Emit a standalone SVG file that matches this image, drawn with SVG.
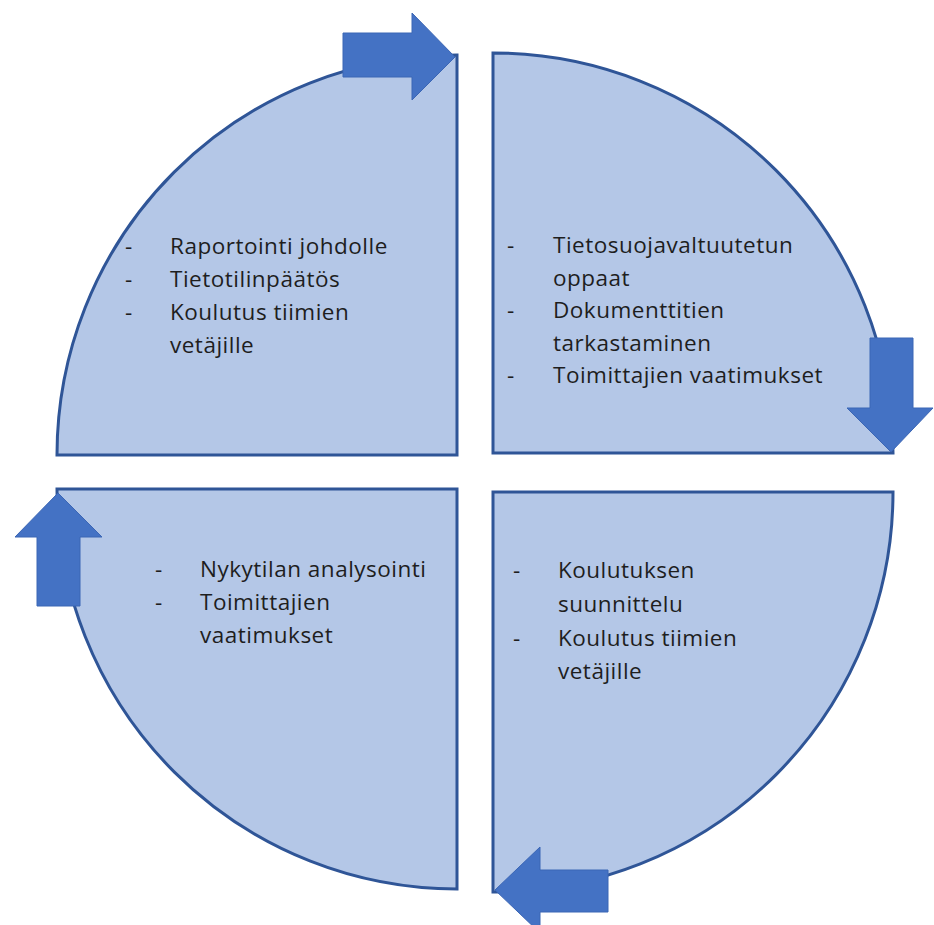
<svg xmlns="http://www.w3.org/2000/svg" width="934" height="925" viewBox="0 0 934 925">
<style>
.sec{fill:#B4C7E7;stroke:#2F5597;stroke-width:3;stroke-linejoin:miter}
.arr{fill:#4472C4;stroke:#3B66B5;stroke-width:1}
.t{font-family:"Open Sans","Noto Sans",sans-serif;font-size:22.5px;letter-spacing:0.5px;fill:#1E1E1E}
</style>
<rect width="934" height="925" fill="#FFFFFF"/>
<g id="sector-tl">
<path class="sec" d="M457,455 L457,55 A400,400 0 0 0 57,455 Z"/>
<text class="t" x="125" y="254">-</text><text class="t" x="170" y="254">Raportointi johdolle</text>
<text class="t" x="125" y="287">-</text><text class="t" x="170" y="287">Tietotilinpäätös</text>
<text class="t" x="125" y="320">-</text><text class="t" x="170" y="320">Koulutus tiimien</text>
<text class="t" x="170" y="353">vetäjille</text>
</g>
<g id="sector-tr">
<path class="sec" d="M493,453 L493,53 A400,400 0 0 1 893,453 Z"/>
<text class="t" x="507" y="253">-</text><text class="t" x="553" y="253">Tietosuojavaltuutetun</text>
<text class="t" x="553" y="286">oppaat</text>
<text class="t" x="507" y="318">-</text><text class="t" x="553" y="318">Dokumenttitien</text>
<text class="t" x="553" y="351">tarkastaminen</text>
<text class="t" x="507" y="383">-</text><text class="t" x="553" y="383">Toimittajien vaatimukset</text>
</g>
<g id="sector-bl">
<path class="sec" d="M457,489 L57,489 A400,400 0 0 0 457,889 Z"/>
<text class="t" x="155" y="577">-</text><text class="t" x="200" y="577">Nykytilan analysointi</text>
<text class="t" x="155" y="610">-</text><text class="t" x="200" y="610">Toimittajien</text>
<text class="t" x="200" y="643">vaatimukset</text>
</g>
<g id="sector-br">
<path class="sec" d="M493,492 L893,492 A400,400 0 0 1 493,892 Z"/>
<text class="t" x="513" y="578">-</text><text class="t" x="558" y="578">Koulutuksen</text>
<text class="t" x="558" y="612">suunnittelu</text>
<text class="t" x="513" y="646">-</text><text class="t" x="558" y="646">Koulutus tiimien</text>
<text class="t" x="558" y="679">vetäjille</text>
</g>
<g id="connectors">
<polygon class="arr" points="343,33 412,33 412,13 455,57 412,100 412,77 343,77"/>
<polygon class="arr" points="870,338 913,338 913,408 933,408 891,452 847,408 870,408"/>
<polygon class="arr" points="58,493 102,537 80,537 80,606 37,606 37,537 15,537"/>
<polygon class="arr" points="495,890 540,847 540,870 608,870 608,912 540,912 540,933"/>
</g>
</svg>
